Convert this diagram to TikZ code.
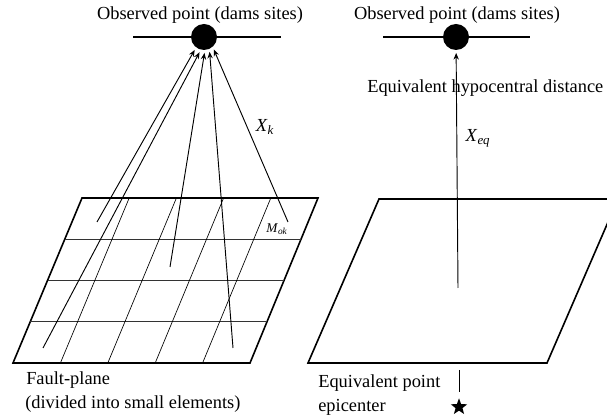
\documentclass[tikz,border=0pt]{standalone}
\usepackage{fontspec}
\setmainfont{Liberation Serif}
\usetikzlibrary{arrows.meta,shapes.geometric,positioning}

\tikzset{
  site/.style={circle,fill=black,inner sep=0pt,minimum size=19.5pt},
  lbl/.style={font=\fontsize{13.8}{16}\selectfont,inner sep=0pt},
  ray/.style={line width=0.7pt,-{Stealth[length=5pt,width=4pt]},shorten >=2pt},
  plane/.style={line width=1.2pt,line join=miter},
  ground/.style={line width=1.3pt},
}

\begin{document}
\begin{tikzpicture}[x=0.75pt,y=-0.75pt]
\useasboundingbox (0,0) rectangle (607,416);
\clip (0,0) rectangle (607,416);

% Fault plane, divided into elements
\draw[plane] (13,363) -- (250,363) -- (318,198) -- (82,198) -- cycle;
\foreach \j in {1,2,3}
  \draw[line width=1pt,black!80] ({82-17.25*\j},{198+41.25*\j}) -- ({318-17*\j},{198+41.25*\j});
\foreach \i in {1,...,4}
  \draw[line width=0.5pt] ({13+47.4*\i},363) -- ({82+47.2*\i},198);

% Observed point (left)
\coordinate (gl1) at (133,37);
\coordinate (gl2) at (281,37);
\node[site] (obsL) at (204,37) {};
\draw[ground] (gl1) -- (obsL) -- (gl2);
\node[lbl] (obsLtxt) at (200,15) {Observed point (dams sites)};

% Elements and rays
\coordinate (m1) at (97,222);
\coordinate (m2) at (43,348);
\coordinate (m3) at (170,267);
\coordinate (m4) at (233,348);
\coordinate (m5) at (288,222);
\draw[ray] (m1) -- (obsL.-127);
\draw[ray] (m2) -- (obsL.-104);
\draw[ray] (m3) -- (obsL.-86);
\draw[ray] (m4) -- (obsL.-66);
\draw[ray] (m5) -- (obsL.-49);

\node[lbl] (xk) at (265,127) {\textit{X}\textsubscript{\textit{k}}};
\node[lbl,font=\fontsize{10}{11}\selectfont] (mok) at (277,229) {\textit{M}\textsubscript{\textit{ok}}};
\node[lbl,anchor=west] (fp) at (26,380) {Fault-plane};
\node[lbl,anchor=west] (fpsub) at (25,404) {(divided into small elements)};

% Equivalent point source (right)
\draw[plane] (308,363) -- (547,363) -- (618,199) -- (379,199) -- cycle;
\coordinate (gr1) at (383,37);
\coordinate (gr2) at (530,37);
\node[site] (obsR) at (456,37) {};
\draw[ground] (gr1) -- (obsR) -- (gr2);
\node[lbl] (obsRtxt) at (457,15) {Observed point (dams sites)};

\coordinate (eq) at (458,288);
\draw[ray] (eq) -- (obsR);
\node[lbl,anchor=west] (hypo) at (367,88) {Equivalent hypocentral distance};
\node[lbl] (xeq) at (478,138) {\textit{X}\textsubscript{\textit{eq}}};

\node[star,star points=5,star point ratio=2.4,fill=black,inner sep=0pt,minimum size=13pt] (epi) at (459,407) {};
\coordinate (eqtop) at (459,370);
\draw[line width=0.7pt,shorten >=4pt] (eqtop) -- (epi);
\node[lbl,anchor=west] (eqp) at (318,383) {Equivalent point};
\node[lbl,anchor=west] (epic) at (318,407) {epicenter};
\end{tikzpicture}
\end{document}
